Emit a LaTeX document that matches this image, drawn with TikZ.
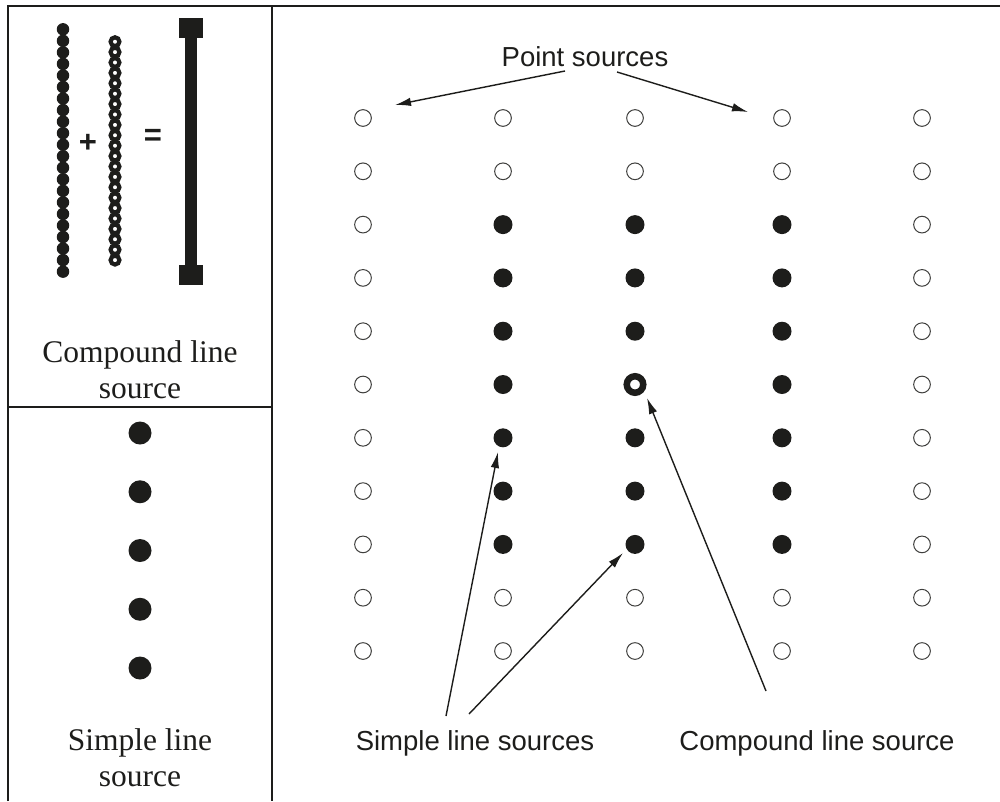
\documentclass[tikz,border=0pt]{standalone}
\usepackage{fontspec}
\setmainfont{Liberation Serif}
\setsansfont{Liberation Sans}
\usetikzlibrary{arrows.meta}
\definecolor{ink}{HTML}{1D1D1B}
\begin{document}
\begin{tikzpicture}[x=1pt,y=-1pt,
  frame/.style={draw=ink, line width=2.5pt},
  pt/.style={circle, draw=ink!85, line width=1pt, minimum size=16.7pt, inner sep=0pt},
  fdot/.style={circle, fill=ink, minimum size=19pt, inner sep=0pt},
  ring/.style={circle, draw=ink, line width=6.5pt, minimum size=16.5pt, inner sep=0pt},
  chainf/.style={circle, fill=ink, minimum size=12.5pt, inner sep=0pt},
  chaino/.style={circle, draw=ink, line width=4.2pt, minimum size=8.8pt, inner sep=0pt},
  bigdot/.style={circle, fill=ink, minimum size=23pt, inner sep=0pt},
  serif/.style={text=ink, align=center, font=\fontsize{31.5}{36}\selectfont, inner sep=0pt},
  sans/.style={text=ink, font=\sffamily\fontsize{27.5}{32}\selectfont, inner sep=0pt},
  opsym/.style={text=ink, font=\sffamily\bfseries\fontsize{31}{31}\selectfont, inner sep=0pt},
  arr/.style={draw=ink, line width=1.4pt, -{Latex[length=16pt,width=8.5pt]}}
]
\useasboundingbox (0,0) rectangle (1000,801);
% frame
\draw[frame] (8,801) -- (8,6) -- (1000,6);
\draw[frame] (272,6) -- (272,801);
\draw[frame] (8,407) -- (272,407);

% compound line source illustration
\foreach \i in {0,...,21} {
  \node[chainf] (f-\i) at (63,{29.3+11.54*\i}) {};
  \node[chaino] (o-\i) at (115,{41.7+10.4*\i}) {};
}
\node[opsym] (plus) at (88,143) {+};
\node[opsym] (eq) at (153,137) {=};
\fill[ink] (179,18) rectangle (203,38);
\fill[ink] (185,37) rectangle (197,266);
\fill[ink] (179,265) rectangle (203,285);
\node[serif] (cls) at (140,370) {Compound line\\source};

% simple line source illustration
\foreach \i in {0,...,4} {
  \node[bigdot] (s-\i) at (140,{433+58.75*\i}) {};
}
\node[serif] (sls) at (140,758) {Simple line\\source};

% grid
\foreach \c/\x in {1/363,2/503,3/635,4/782,5/922} {
  \foreach \r in {1,...,11} {
    \def\st{pt}
    \ifnum\c>1 \ifnum\c<5 \ifnum\r>2 \ifnum\r<10 \def\st{fdot}\fi\fi\fi\fi
    \ifnum\c=3 \ifnum\r=6 \def\st{ring}\fi\fi
    \node[\st] (g-\c-\r) at (\x,{118+53.3*(\r-1)}) {};
  }
}

% labels
\node[sans] (ps) at (585,57) {Point sources};
\node[sans] (sl) at (475,743) {Simple line sources};
\node[sans] (cl) at (817,743) {Compound line source};

% arrows
\coordinate (psA) at (565,71);
\coordinate (psB) at (617,72);
\coordinate (psAt) at (395,105);
\coordinate (psBt) at (748,112);
\draw[arr] (psA) -- (psAt);
\draw[arr] (psB) -- (psBt);

\coordinate (slA) at (446,716);
\coordinate (slB) at (469,714);
\coordinate (slAt) at (498,452);
\coordinate (slBt) at (623,553);
\draw[arr] (slA) -- (slAt);
\draw[arr] (slB) -- (slBt);

\coordinate (clA) at (766,691);
\coordinate (clAt) at (647,398);
\draw[arr] (clA) -- (clAt);
\end{tikzpicture}
\end{document}
